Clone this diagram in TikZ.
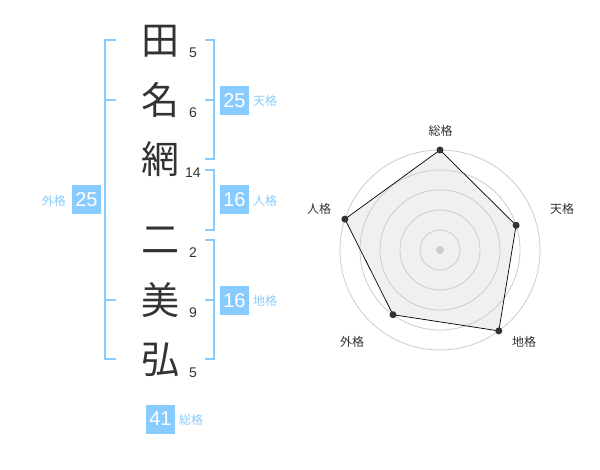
\documentclass[tikz,border=0pt]{standalone}
\usepackage{fontspec}
\setmainfont{Liberation Sans}
\newfontfamily\jp{Noto Sans CJK JP}
\definecolor{sky}{HTML}{88CCFF}
\definecolor{ink}{HTML}{333333}
\definecolor{ring}{HTML}{CCCCCC}
\definecolor{area}{HTML}{F0F0F0}
\begin{document}
\begin{tikzpicture}[x=1pt,y=-1pt,
  kanji/.style={font=\jp\fontsize{38}{38}\selectfont, text=ink, inner sep=0pt},
  strokes/.style={font=\fontsize{14}{14}\selectfont, text=ink, inner sep=0pt},
  scorebox/.style={fill=sky, text=white, minimum size=29pt, inner sep=0pt, font=\fontsize{20}{20}\selectfont},
  scorelab/.style={font=\jp\fontsize{12}{12}\selectfont, text=sky, inner sep=0pt},
  bracket/.style={draw=sky, line width=2pt},
  axislab/.style={font=\jp\fontsize{12}{12}\selectfont, text=ink, inner sep=0pt},
  ringline/.style={draw=ring, line width=0.8pt},
  dot/.style={circle, fill=ink, minimum size=7pt, inner sep=0pt}]
\useasboundingbox (0,0) rectangle (600,470);
\fill[white] (0,0) rectangle (600,470);

% kanji
\node[kanji] (k1) at (160,41) {田};
\node[kanji] (k2) at (160,100) {名};
\node[kanji] (k3) at (160,159) {網};
\node[kanji] (k4) at (160,240) {二};
\node[kanji] (k5) at (160,300) {美};
\node[kanji] (k6) at (160,360) {弘};

% stroke counts
\node[strokes] (s1) at (193,53) {5};
\node[strokes] (s2) at (193,113) {6};
\node[strokes] (s3) at (193,173) {14};
\node[strokes] (s4) at (193,253) {2};
\node[strokes] (s5) at (193,313) {9};
\node[strokes] (s6) at (193,373) {5};

% brackets
\draw[bracket] (116,40) -- (105,40) -- (105,359) -- (116,359);
\draw[bracket] (105,100) -- (116,100);
\draw[bracket] (105,300) -- (116,300);
\draw[bracket] (205,40) -- (214,40) -- (214,159) -- (205,159);
\draw[bracket] (205,100) -- (214,100);
\draw[bracket] (205,170) -- (214,170) -- (214,230) -- (205,230);
\draw[bracket] (205,240) -- (214,240) -- (214,359) -- (205,359);
\draw[bracket] (205,300) -- (214,300);

% score boxes
\node[scorebox] (ten) at (234.5,100.5) {25};
\node[scorelab, anchor=west] (tenl) at (253,101) {天格};
\node[scorebox] (jin) at (234.5,200) {16};
\node[scorelab, anchor=west] (jinl) at (253,201) {人格};
\node[scorebox] (chi) at (234.5,300.5) {16};
\node[scorelab, anchor=west] (chil) at (253,301) {地格};
\node[scorebox] (gai) at (86.5,200) {25};
\node[scorelab, anchor=east] (gail) at (66,201) {外格};
\node[scorebox] (sou) at (160.5,419) {41};
\node[scorelab, anchor=west] (soul) at (179,420) {総格};

% radar chart
\coordinate (c) at (440,250);
\coordinate (p1) at (440,150);
\coordinate (p2) at (516.1,225.3);
\coordinate (p3) at (498.8,330.9);
\coordinate (p4) at (393.0,314.7);
\coordinate (p5) at (344.9,219.1);
\fill[area] (p1) -- (p2) -- (p3) -- (p4) -- (p5) -- cycle;
\foreach \r in {20,40,60,80,100} \draw[ringline] (c) circle (\r);
\fill[ring] (c) circle (4);
\draw[black, line width=0.7pt] (p1) -- (p2) -- (p3) -- (p4) -- (p5) -- cycle;
\foreach \p in {p1,p2,p3,p4,p5} \node[dot] at (\p) {};

\node[axislab] (a1) at (440.5,130.5) {総格};
\node[axislab] (a2) at (562,209) {天格};
\node[axislab] (a3) at (524,342) {地格};
\node[axislab] (a4) at (352,342) {外格};
\node[axislab] (a5) at (319,209) {人格};
\end{tikzpicture}
\end{document}
